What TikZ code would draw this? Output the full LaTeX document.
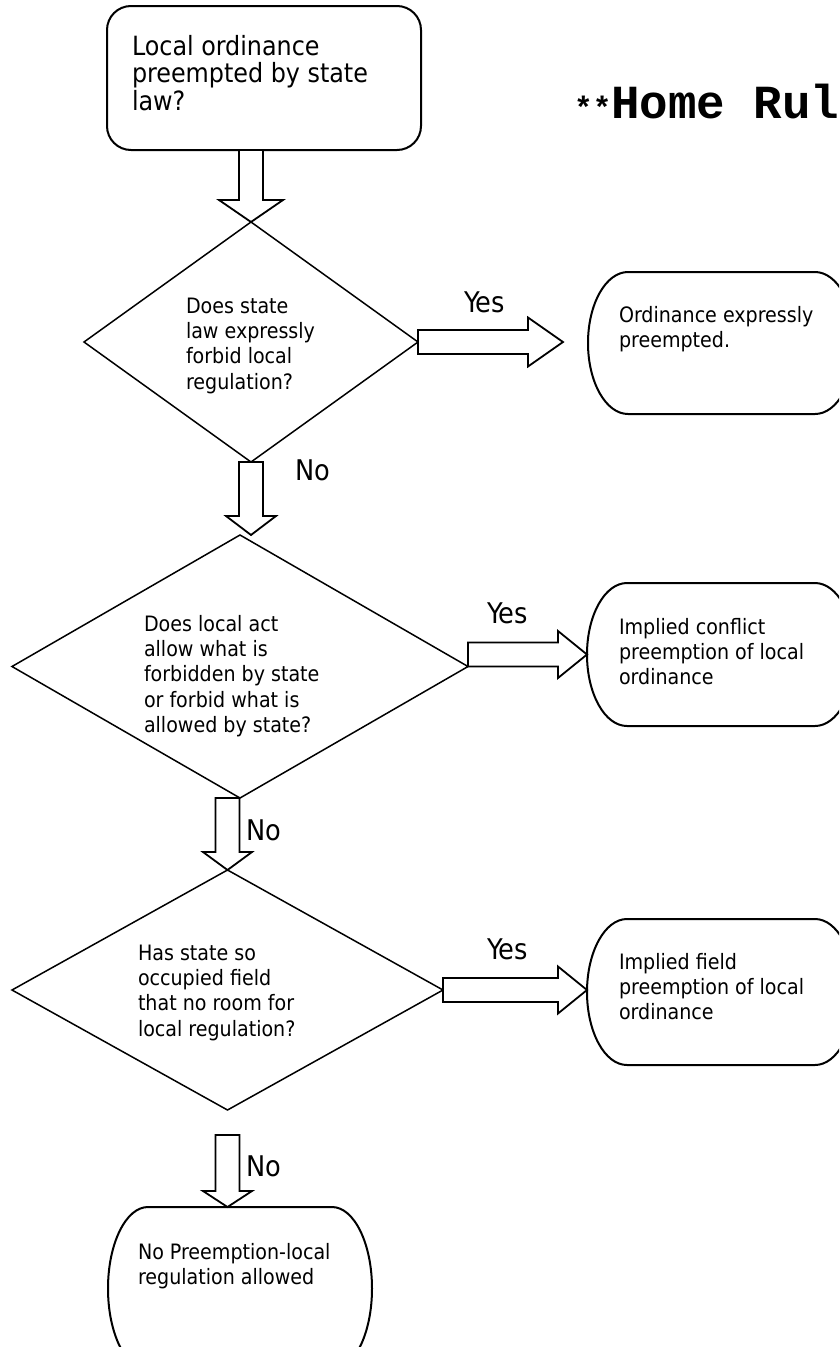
\documentclass[tikz,border=0pt]{standalone}
\usepackage{fontspec}
\setmainfont{DejaVu Sans Condensed}
\newfontfamily\titlefont{Liberation Mono}
\usetikzlibrary{shapes.geometric,calc}

\tikzset{
  outline/.style={draw=black, line width=2pt},
  dline/.style={draw=black, line width=1.5pt},
  blk/.style={draw=black, line width=1.8pt, fill=white, line join=miter},
  decision/.style={shape=diamond, dline, inner sep=0pt, outer sep=0pt},
  termshape/.style={shape=rectangle, draw=none, inner sep=0pt, outer sep=0pt},
  boxtext/.style={anchor=base west, inner sep=0pt, outer sep=0pt, font={\fontsize{21.2}{25.4}\selectfont}},
  toptext/.style={anchor=base west, inner sep=0pt, outer sep=0pt, font={\fontsize{26.5}{25.8}\selectfont}},
  lbl/.style={anchor=base west, inner sep=0pt, outer sep=0pt, font={\fontsize{28.5}{30}\selectfont}},
}

% vertical block arrow: #1 start (top), #2 tip, #3 head length, #4 head half width
\newcommand\vblock[4]{%
  \draw[blk] ($(#1)+(-12,0)$) -- ($(#2)+(-12,#3)$) -- ($(#2)+(-#4,#3)$) -- (#2)
    -- ($(#2)+(#4,#3)$) -- ($(#2)+(12,#3)$) -- ($(#1)+(12,0)$) -- cycle;}
% horizontal block arrow: #1 start (left), #2 tip, #3 head length, #4 head half height
\newcommand\hblock[4]{%
  \draw[blk] ($(#1)+(0,12)$) -- ($(#2)+(-#3,12)$) -- ($(#2)+(-#3,#4)$) -- (#2)
    -- ($(#2)+(-#3,-#4)$) -- ($(#2)+(-#3,-12)$) -- ($(#1)+(0,-12)$) -- cycle;}
% terminator outline around a rectangle node: #1 node, #2 x radius, #3 y radius
\newcommand\termline[3]{%
  \draw[outline] ($(#1.north west)+(#2,0)$) -- ($(#1.north east)+(-#2,0)$)
    arc[start angle=90, end angle=-90, x radius=#2, y radius=#3]
    -- ($(#1.south west)+(#2,0)$)
    arc[start angle=270, end angle=90, x radius=#2, y radius=#3] -- cycle;}

\begin{document}
\begin{tikzpicture}[x=1pt,y=1pt]
\useasboundingbox (0,0) rectangle (839,-1347);
\fill[white] (0,0) rectangle (839,-1347);
\clip (0,0) rectangle (839,-1347);

% start box
\node[outline, rounded corners=24pt, minimum width=314pt, minimum height=144pt, inner sep=0pt, outer sep=0pt] (top) at (264,-78) {};
\node[toptext] (toptxt) at (132,-55) {\begin{tabular}[t]{@{}l@{}}Local ordinance\\preempted by state\\law?\end{tabular}};

% title
\node[anchor=base west, inner sep=0pt] (title) at (574,-118) {\titlefont\bfseries{\fontsize{31}{31}\selectfont **}\fontsize{47.5}{48}\selectfont Home Rul};

% decisions
\node[decision, minimum width=334pt, minimum height=240pt] (d1) at (251,-342) {};
\node[decision, minimum width=456pt, minimum height=263pt] (d2) at (240,-666.5) {};
\node[decision, minimum width=431pt, minimum height=240pt] (d3) at (227.5,-990) {};

\node[boxtext] (d1txt) at (186,-313) {\begin{tabular}[t]{@{}l@{}}Does state\\law expressly\\forbid local\\regulation?\end{tabular}};
\node[boxtext] (d2txt) at (144,-631) {\begin{tabular}[t]{@{}l@{}}Does local act\\allow what is\\forbidden by state\\or forbid what is\\allowed by state?\end{tabular}};
\node[boxtext] (d3txt) at (138,-960) {\begin{tabular}[t]{@{}l@{}}Has state so\\occupied field\\that no room for\\local regulation?\end{tabular}};

% terminators
\node[termshape, minimum width=267pt, minimum height=142pt] (b1) at (721.5,-343) {};
\node[termshape, minimum width=268pt, minimum height=143pt] (b2) at (721,-654.5) {};
\node[termshape, minimum width=268pt, minimum height=146pt] (b3) at (721,-992) {};
\node[termshape, minimum width=264pt, minimum height=163pt] (b4) at (240,-1288.5) {};
\termline{b1}{40pt}{71pt}
\termline{b2}{40pt}{71.5pt}
\termline{b3}{40pt}{73pt}
\termline{b4}{40pt}{81.5pt}

\node[boxtext] (b1txt) at (619,-322) {\begin{tabular}[t]{@{}l@{}}Ordinance expressly\\preempted.\end{tabular}};
\node[boxtext] (b2txt) at (619,-634) {\begin{tabular}[t]{@{}l@{}}Implied conflict\\preemption of local\\ordinance\end{tabular}};
\node[boxtext] (b3txt) at (619,-969) {\begin{tabular}[t]{@{}l@{}}Implied field\\preemption of local\\ordinance\end{tabular}};
\node[boxtext] (b4txt) at (138,-1259) {\begin{tabular}[t]{@{}l@{}}No Preemption-local\\regulation allowed\end{tabular}};

% connectors
\coordinate (a0s) at (d1.north |- top.south);
\vblock{a0s}{d1.north}{22}{32}
\coordinate (a1e) at (d1.south |- d2.north);
\vblock{d1.south}{a1e}{19}{25}
\coordinate (a2s) at (d3.north |- d2.south);
\vblock{a2s}{d3.north}{18}{24.5}
\coordinate (a3s) at ($(d3.south)+(0,-25)$);
\coordinate (a3e) at (d3.south |- b4.north);
\vblock{a3s}{a3e}{16}{24.5}

\coordinate (y1e) at ($(d1.east -| b1.west)+(-25,0)$);
\hblock{d1.east}{y1e}{35}{24.5}
\coordinate (y2s) at (d2.east |- b2.west);
\hblock{y2s}{b2.west}{29}{23.5}
\coordinate (y3e) at (d3.east -| b3.west);
\hblock{d3.east}{y3e}{29}{23.5}

% labels
\node[lbl] (yes1) at (464,-312) {Yes};
\node[lbl] (yes2) at (487,-623) {Yes};
\node[lbl] (yes3) at (487,-959) {Yes};
\node[lbl] (no1) at (295,-480) {No};
\node[lbl] (no2) at (246,-840) {No};
\node[lbl] (no3) at (246,-1176) {No};
\end{tikzpicture}
\end{document}
